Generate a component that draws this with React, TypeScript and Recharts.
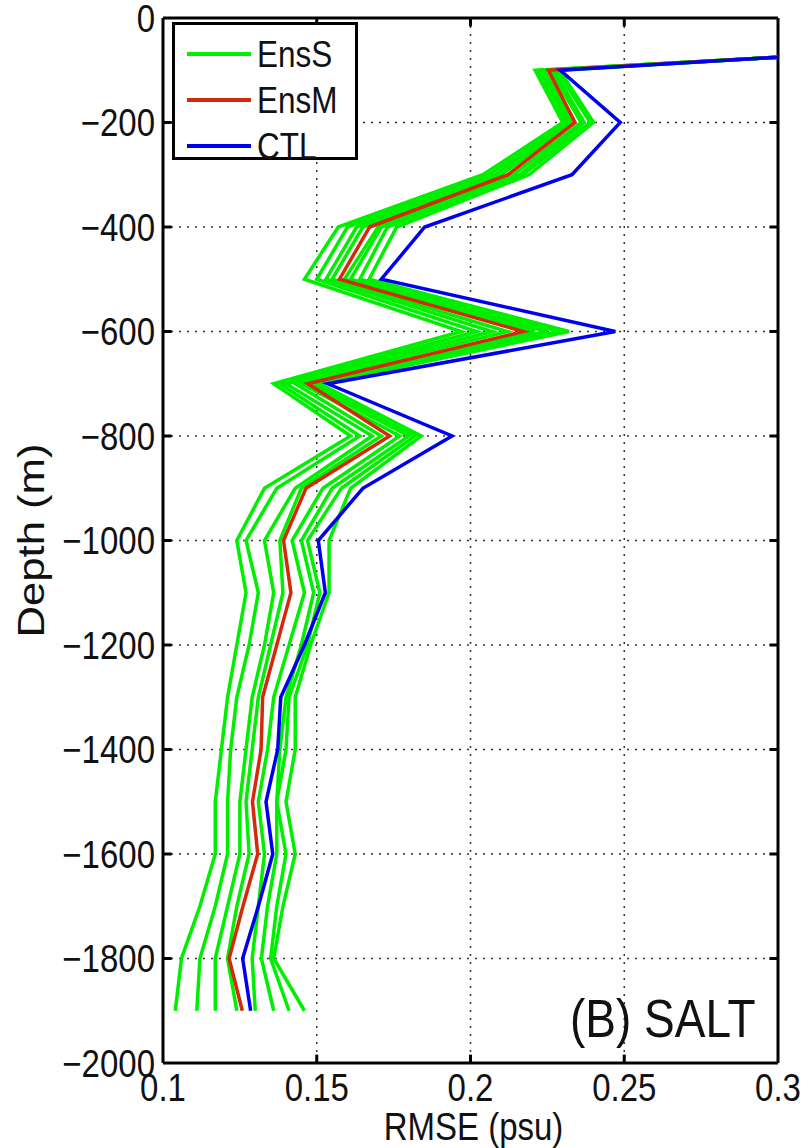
import { LineChart, Line, XAxis, YAxis, CartesianGrid, ReferenceLine } from "recharts";

const FONT = "'Liberation Sans', Arial, sans-serif";
const STRETCH = 1.18; // the original figure is a bit taller than wide

// depth levels (m)
const DEPTHS = [
  -75, -100, -200, -300, -400, -500, -600, -700, -800, -900, -1000, -1100, -1200,
  -1300, -1400, -1500, -1600, -1700, -1800, -1900,
];

// ensemble members (EnsS)
const ENS_S = [
  [0.3, 0.221, 0.23, 0.204, 0.157, 0.146, 0.197, 0.136, 0.161, 0.133, 0.124, 0.127, 0.124, 0.121, 0.119, 0.117, 0.117, 0.112, 0.106, 0.104],
  [0.3, 0.222, 0.231, 0.206, 0.16, 0.15, 0.202, 0.138, 0.164, 0.137, 0.127, 0.131, 0.128, 0.124, 0.122, 0.121, 0.121, 0.117, 0.112, 0.111],
  [0.3, 0.223, 0.232, 0.208, 0.163, 0.153, 0.207, 0.14, 0.168, 0.143, 0.133, 0.136, 0.133, 0.129, 0.127, 0.125, 0.125, 0.121, 0.117, 0.117],
  [0.3, 0.224, 0.233, 0.21, 0.165, 0.155, 0.212, 0.143, 0.171, 0.145, 0.138, 0.139, 0.135, 0.131, 0.129, 0.127, 0.128, 0.124, 0.121, 0.124],
  [0.3, 0.226, 0.236, 0.214, 0.17, 0.159, 0.221, 0.145, 0.177, 0.152, 0.142, 0.146, 0.141, 0.136, 0.134, 0.131, 0.133, 0.131, 0.129, 0.13],
  [0.3, 0.227, 0.237, 0.216, 0.171, 0.161, 0.225, 0.147, 0.18, 0.155, 0.145, 0.149, 0.145, 0.14, 0.138, 0.137, 0.137, 0.134, 0.132, 0.136],
  [0.3, 0.228, 0.239, 0.217, 0.173, 0.164, 0.229, 0.149, 0.182, 0.158, 0.147, 0.151, 0.147, 0.141, 0.14, 0.137, 0.14, 0.137, 0.135, 0.141],
  [0.3, 0.229, 0.24, 0.219, 0.176, 0.167, 0.232, 0.151, 0.184, 0.161, 0.154, 0.154, 0.148, 0.143, 0.143, 0.14, 0.143, 0.139, 0.136, 0.146],
];

// ensemble mean (EnsM)
const ENS_M = [0.3, 0.2253, 0.234, 0.2122, 0.1672, 0.1574, 0.2172, 0.1471, 0.1737, 0.1465, 0.1392, 0.1416, 0.137, 0.1324, 0.1319, 0.1291, 0.1308, 0.126, 0.1215, 0.1258];

// control run (CTL)
const CTL = [0.3, 0.2292, 0.2487, 0.233, 0.1851, 0.171, 0.2471, 0.1536, 0.194, 0.165, 0.1505, 0.1528, 0.146, 0.1383, 0.1373, 0.1335, 0.1357, 0.131, 0.1259, 0.1285];

const X_TICKS = [0.1, 0.15, 0.2, 0.25, 0.3];
const Y_TICKS = [0, -200, -400, -600, -800, -1000, -1200, -1400, -1600, -1800, -2000];

const GREEN = "#00ee00";
const RED = "#d22a0a";
const BLUE = "#0000f0";
const INK = "#111";

const rows = DEPTHS.map((depth, i) => {
  const row: Record<string, number> = { depth, ensM: ENS_M[i], ctl: CTL[i] };
  ENS_S.forEach((m, k) => {
    row[`s${k}`] = m[i];
  });
  return row;
});

const fmtY = (v: number) => (v === 0 ? "0" : "\u2212" + Math.abs(v));

const LEGEND = [
  { name: "EnsS", color: GREEN },
  { name: "EnsM", color: RED },
  { name: "CTL", color: BLUE },
];

function XTick(props: any) {
  const { x, y, payload } = props;
  return (
    <g transform={`translate(${x},${y}) scale(1,${STRETCH})`}>
      <text x={0} y={24} textAnchor="middle" fontSize={33} fill={INK} fontFamily={FONT}>
        {String(payload.value)}
      </text>
    </g>
  );
}

function YTick(props: any) {
  const { x, y, payload } = props;
  return (
    <g transform={`translate(${x},${y}) scale(1,${STRETCH})`}>
      <text x={0} y={11.8} textAnchor="end" fontSize={33} fill={INK} fontFamily={FONT}>
        {fmtY(payload.value)}
      </text>
    </g>
  );
}

function XTitle(props: any) {
  const { x, y, width } = props.viewBox;
  return (
    <g transform={`translate(${x + width / 2 + 3},${y + 77}) scale(1,${STRETCH})`}>
      <text x={0} y={0} textAnchor="middle" fontSize={33} fill={INK} fontFamily={FONT}>
        RMSE (psu)
      </text>
    </g>
  );
}

function YTitle(props: any) {
  const { y, height } = props.viewBox;
  return (
    <g transform={`translate(44,${y + height / 2}) rotate(-90) scale(${STRETCH},1)`}>
      <text x={0} y={0} textAnchor="middle" fontSize={37} fill={INK} fontFamily={FONT}>
        Depth (m)
      </text>
    </g>
  );
}

export default function App() {
  return (
    <div style={{ position: "absolute", left: 0, top: 0, width: 810, height: 1148, background: "#fff" }}>
      <LineChart
        width={810}
        height={1148}
        data={rows}
        layout="vertical"
        margin={{ top: 18, right: 32, bottom: 0, left: 0 }}
      >
        <CartesianGrid stroke="#333" strokeDasharray="2 6" strokeWidth={1.5} />
        <XAxis
          type="number"
          dataKey="s0"
          domain={[0.1, 0.3]}
          ticks={X_TICKS}
          interval={0}
          allowDataOverflow
          height={85}
          tickLine={false}
          tickMargin={4}
          axisLine={{ stroke: "#000", strokeWidth: 3 }}
          tick={<XTick />}
          label={<XTitle />}
        />
        <YAxis
          type="number"
          dataKey="depth"
          domain={[-2000, 0]}
          reversed
          ticks={Y_TICKS}
          interval={0}
          width={163}
          tickLine={false}
          tickMargin={2}
          axisLine={{ stroke: "#000", strokeWidth: 3 }}
          tick={<YTick />}
          label={<YTitle />}
        />
        <ReferenceLine x={0.3} stroke="#000" strokeWidth={3} />
        <ReferenceLine y={0} stroke="#000" strokeWidth={3} />
        {X_TICKS.slice(1, -1).map((t) => (
          <ReferenceLine key={`xb${t}`} segment={[{ x: t, y: -2000 }, { x: t, y: -1984 }]} stroke="#000" strokeWidth={3} />
        ))}
        {X_TICKS.slice(1, -1).map((t) => (
          <ReferenceLine key={`xt${t}`} segment={[{ x: t, y: 0 }, { x: t, y: -16 }]} stroke="#000" strokeWidth={3} />
        ))}
        {Y_TICKS.slice(1, -1).map((t) => (
          <ReferenceLine key={`yl${t}`} segment={[{ x: 0.1, y: t }, { x: 0.1028, y: t }]} stroke="#000" strokeWidth={3} />
        ))}
        {Y_TICKS.slice(1, -1).map((t) => (
          <ReferenceLine key={`yr${t}`} segment={[{ x: 0.3, y: t }, { x: 0.2972, y: t }]} stroke="#000" strokeWidth={3} />
        ))}
        {ENS_S.map((_, k) => (
          <Line
            key={`s${k}`}
            dataKey={`s${k}`}
            stroke={GREEN}
            strokeWidth={3.5}
            dot={false}
            isAnimationActive={false}
          />
        ))}
        <Line dataKey="ensM" stroke={RED} strokeWidth={3.5} dot={false} isAnimationActive={false} />
        <Line dataKey="ctl" stroke={BLUE} strokeWidth={3.5} dot={false} isAnimationActive={false} />
      </LineChart>

      {/* legend box and panel tag drawn over the plot */}
      <svg width={810} height={1148} style={{ position: "absolute", left: 0, top: 0, pointerEvents: "none" }}>
        <rect x={173.5} y={23.5} width={183} height={135} fill="#fff" stroke="#000" strokeWidth={3} />
        {LEGEND.map((item, i) => {
          const cy = 54 + i * 46;
          return (
            <g key={item.name}>
              <line x1={187} x2={251} y1={cy} y2={cy} stroke={item.color} strokeWidth={4} />
              <g transform={`translate(257,${cy}) scale(1,${STRETCH})`}>
                <text x={0} y={11.3} fontSize={31.5} fill={INK} fontFamily={FONT}>
                  {item.name}
                </text>
              </g>
            </g>
          );
        })}
        <g transform={`translate(570,1037) scale(1,${STRETCH})`}>
          <text x={0} y={0} fontSize={46} fill={INK} fontFamily={FONT}>
            (B) SALT
          </text>
        </g>
      </svg>
    </div>
  );
}
